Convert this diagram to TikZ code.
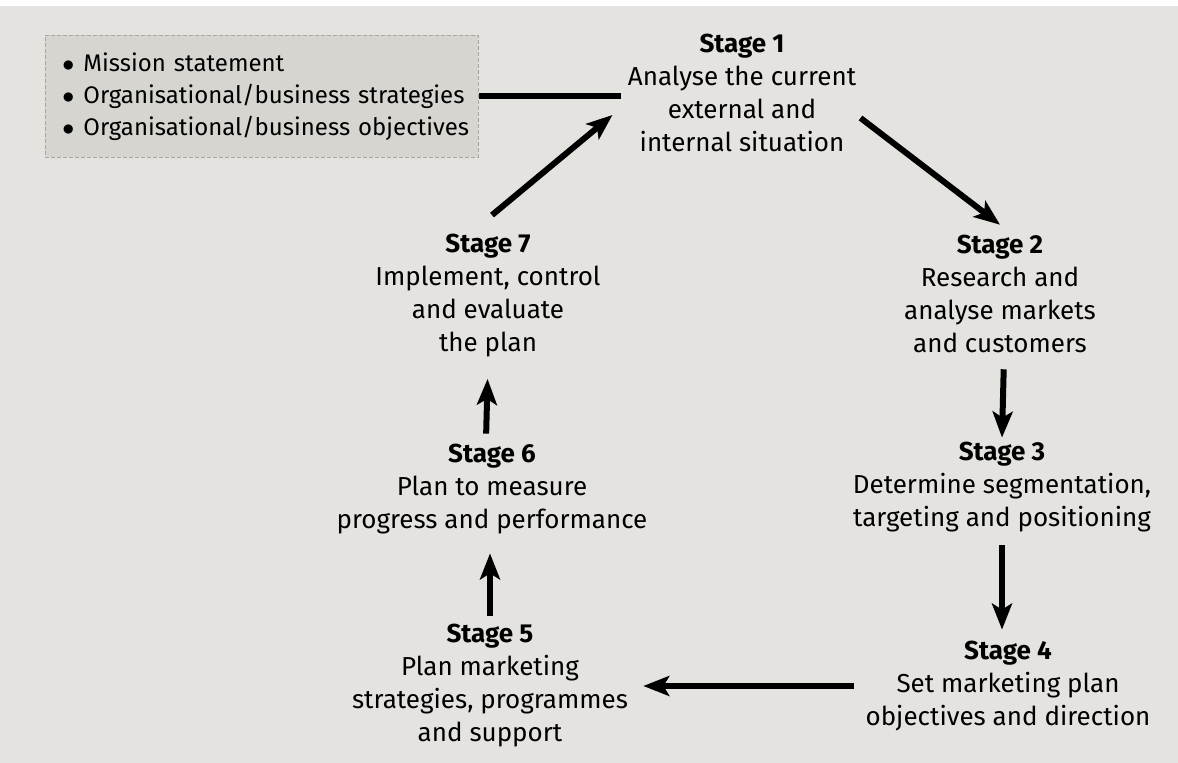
\documentclass[tikz,border=0pt]{standalone}
\usepackage{fontspec}
\setmainfont{Fira Sans}
\usetikzlibrary{arrows.meta}

\definecolor{paper}{RGB}{228,227,223}
\definecolor{boxfill}{RGB}{214,213,208}

\newcommand\ctxitem{\hspace*{8.5pt}\makebox[10.5pt][l]{$\bullet$}}

\tikzset{
	stage/.style={align=center, font=\fontsize{13}{16.5}\selectfont, inner sep=2pt},
	flow/.style={line width=3pt, -{Stealth[length=13pt,width=10pt,inset=3pt]}},
}

\begin{document}
\begin{tikzpicture}[x=0.5pt, y=-0.5pt]
	\useasboundingbox (0,0) rectangle (1178,763);
	\fill[paper] (0,0) rectangle (1178,763);
	\fill[white] (0,0) rectangle (1178,6);

	% context box
	\node[anchor=north west, draw=gray!70, dash pattern=on 2pt off 1pt, fill=boxfill,
		minimum height=61pt, text width=216.5pt, inner xsep=0pt,
		align=left, font=\fontsize{12}{16}\selectfont] (ctx) at (45,35)
		{\ctxitem Mission statement\\\ctxitem Organisational/business strategies\\\ctxitem Organisational/business objectives};

	% the seven stages
	\node[stage] (s1) at (742,93) {\textbf{Stage 1}\\Analyse the current\\external and\\internal situation};
	\node[stage] (s2) at (1000,294) {\textbf{Stage 2}\\Research and\\analyse markets\\and customers};
	\node[stage] (s3) at (1002,487) {\textbf{Stage 3}\\Determine segmentation,\\targeting and positioning};
	\node[stage] (s4) at (1008,686) {\textbf{Stage 4}\\Set marketing plan\\objectives and direction};
	\node[stage] (s5) at (490,686) {\textbf{Stage 5}\\Plan marketing\\strategies, programmes\\and support};
	\node[stage] (s6) at (492,489) {\textbf{Stage 6}\\Plan to measure\\progress and performance};
	\node[stage] (s7) at (488,296) {\textbf{Stage 7}\\Implement, control\\and evaluate\\the plan};

	% connectors
	\draw[line width=3pt, shorten >=1pt] (ctx.east) -- (ctx.east -| s1.west);
	\draw[flow] ([shift={(0,25)}]s1.east) -- ([shift={(0,-6)}]s2.north);
	\draw[flow, shorten <=6pt] ([xshift=2]s2.south) -- (s3.north);
	\draw[flow, shorten <=4.5pt, shorten >=3.5pt] (s3.south) -- (s3.south |- s4.north);
	\draw[flow] ([xshift=-3.5]s4.west) -- ([xshift=5.5]s5.east);
	\draw[flow, shorten <=2pt, shorten >=7.5pt] (s5.north) -- (s5.north |- s6.south);
	\draw[flow, shorten <=3pt, shorten >=8.5pt] ([xshift=-3]s6.north) -- (s7.south);
	\draw[flow] ([shift={(4,-15)}]s7.north) -- ([shift={(-11,22)}]s1.west);
\end{tikzpicture}
\end{document}
